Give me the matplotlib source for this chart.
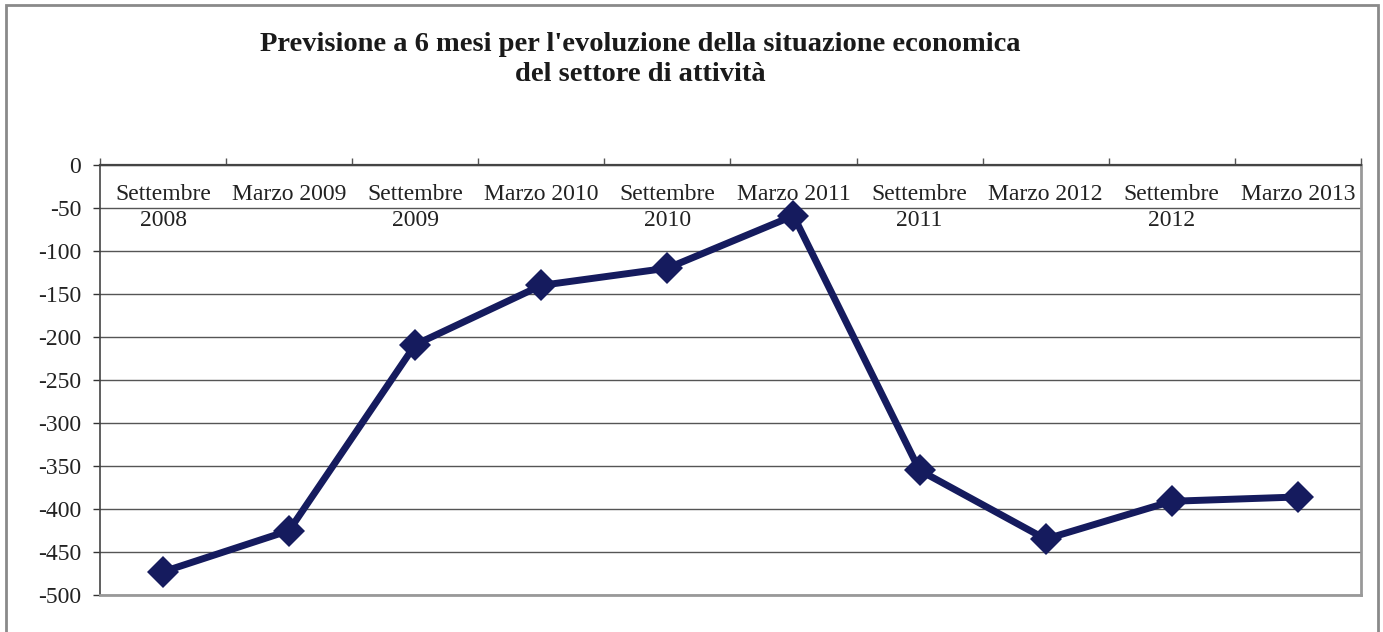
import matplotlib
matplotlib.use('Agg')
import matplotlib.pyplot as plt
from matplotlib.patches import Rectangle
from matplotlib.ticker import FixedLocator


# ========================== CONFIG ==========================
FIGSIZE = (13.83, 6.32)
DPI = 100

LINE_COLOR = '#151B5E'
LINE_WIDTH = 5
MARKER_SIZE = 16

GRID_COLOR = '#555555'
FONT = ['Liberation Serif', 'DejaVu Serif']
TICK_SIZE = 17
TITLE_SIZE = 20.5
# ===========================================================

periodi = ['Settembre\n2008', 'Marzo 2009', 'Settembre\n2009', 'Marzo 2010',
           'Settembre\n2010', 'Marzo 2011', 'Settembre\n2011', 'Marzo 2012',
           'Settembre\n2012', 'Marzo 2013']
saldo = [-473, -425, -209, -140, -120, -59, -355, -435, -391, -386]
y_ticks = [0, -50, -100, -150, -200, -250, -300, -350, -400, -450, -500]

plt.rcParams['font.family'] = FONT

fig = plt.figure(figsize=FIGSIZE, dpi=DPI)
ax = fig.add_axes([0.0723, 0.0585, 0.9117, 0.6805])

x = list(range(len(periodi)))
ax.plot(x, saldo, '-', color=LINE_COLOR, linewidth=LINE_WIDTH,
        marker='D', markersize=MARKER_SIZE, markeredgewidth=0, zorder=3)

ax.set_xlim(-0.5, len(periodi) - 0.5)
ax.set_ylim(-500, 0)

# y axis
ax.set_yticks(y_ticks)
ax.set_yticklabels([str(v) for v in y_ticks])
ax.tick_params(axis='y', direction='out', length=5, width=1, color='#333333',
               labelsize=TICK_SIZE, pad=8.5, labelcolor='#222222')
ax.yaxis.grid(True, color=GRID_COLOR, linewidth=1)

# x axis: labels at top inside, ticks at category boundaries
ax.xaxis.tick_top()
ax.set_xticks(x)
ax.set_xticklabels(periodi, fontsize=TICK_SIZE, color='#222222', linespacing=1.3)
ax.tick_params(axis='x', which='major', length=0, pad=-14,
               top=True, bottom=False, labeltop=True, labelbottom=False)
for lbl in ax.get_xticklabels():
    lbl.set_verticalalignment('top')
ax.xaxis.set_minor_locator(FixedLocator([i + 0.5 for i in range(-1, len(periodi))]))
ax.tick_params(axis='x', which='minor', direction='out', length=5, width=1,
               color='#555555', top=True, bottom=False)

ax.spines['top'].set_color('#444444')
ax.spines['top'].set_linewidth(1.6)
ax.spines['left'].set_color('#444444')
ax.spines['left'].set_linewidth(1.2)
ax.spines['right'].set_color('#999999')
ax.spines['right'].set_linewidth(2)
ax.spines['bottom'].set_color('#999999')
ax.spines['bottom'].set_linewidth(2)
ax.set_axisbelow(True)

fig.text(0.463, 1 - 32 / 632,
         "Previsione a 6 mesi per l'evoluzione della situazione economica\n"
         "del settore di attività",
         ha='center', va='top', fontsize=TITLE_SIZE, fontweight='bold',
         color='#1a1a1a', linespacing=1.25)

# outer chart frame
fig.patches.append(Rectangle((6 / 1383, -0.02), 1372 / 1383, 1.02 - 5 / 632,
                             transform=fig.transFigure, fill=False,
                             edgecolor='#8a8a8a', linewidth=2))

fig.savefig('out.png', dpi=DPI)
